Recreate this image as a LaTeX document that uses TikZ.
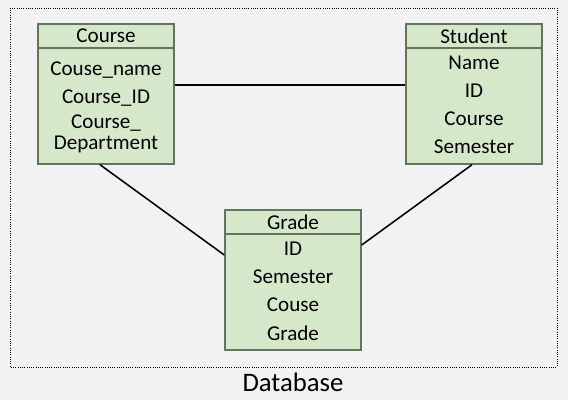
\documentclass[tikz,border=0pt]{standalone}
\usepackage{fontspec}
\setmainfont{Carlito}
\definecolor{bgcol}{RGB}{242,242,242}
\definecolor{boxfill}{RGB}{213,232,202}
\definecolor{boxline}{RGB}{100,115,95}
\begin{document}
\begin{tikzpicture}[x=0.025cm,y=-0.025cm,font=\fontsize{15}{17}\selectfont,
	entity/.style={draw=boxline,fill=boxfill,line width=1pt,minimum width=3.4cm,minimum height=3.5cm,inner sep=0pt},
	head/.style={draw=boxline,line width=1pt,minimum width=3.4cm,minimum height=0.6cm,inner sep=0pt},
	field/.style={inner sep=0pt,align=center},
	link/.style={line width=1.1pt,black}]
				\fill[bgcol] (0,0) rectangle (568,400);
				\draw[densely dotted,line width=0.6pt] (10,8) rectangle (557,367);
				% course table
				\node[entity] (course) at (106,94) {};
				\node[head,anchor=north] (coursehead) at (course.north) {Course};
				\node[field] (cname) at (106,70) {Couse\_name};
				\node[field] (cid) at (106,98) {Course\_ID};
				\node[field] (cdep) at (106,134) {Course\_\\[-2pt]Department};
				% student table
				\node[entity] (student) at (474,94) {};
				\node[head,anchor=north] (studenthead) at (student.north) {Student};
				\node[field] (sname) at (474,63) {Name};
				\node[field] (sid) at (474,91) {ID};
				\node[field] (scourse) at (474,119) {Course};
				\node[field] (ssem) at (474,147) {Semester};
				% grade table
				\node[entity] (grade) at (293,280) {};
				\node[head,anchor=north] (gradehead) at (grade.north) {Grade};
				\node[field] (gid) at (293,249) {ID};
				\node[field] (gsem) at (293,277) {Semester};
				\node[field] (gcourse) at (293,305) {Couse};
				\node[field] (ggrade) at (293,333) {Grade};
				\draw[link] ([yshift=0.225cm]course.east) -- ([yshift=0.225cm]student.west);
				\draw[link] ([xshift=-0.15cm]course.south) -- ([yshift=0.625cm]grade.west);
				\draw[link] ([xshift=-0.05cm]student.south) -- ([yshift=0.875cm]grade.east);
				\node[font=\fontsize{19}{21}\selectfont] (dbname) at (293,382) {Database};
			\end{tikzpicture}
\end{document}
